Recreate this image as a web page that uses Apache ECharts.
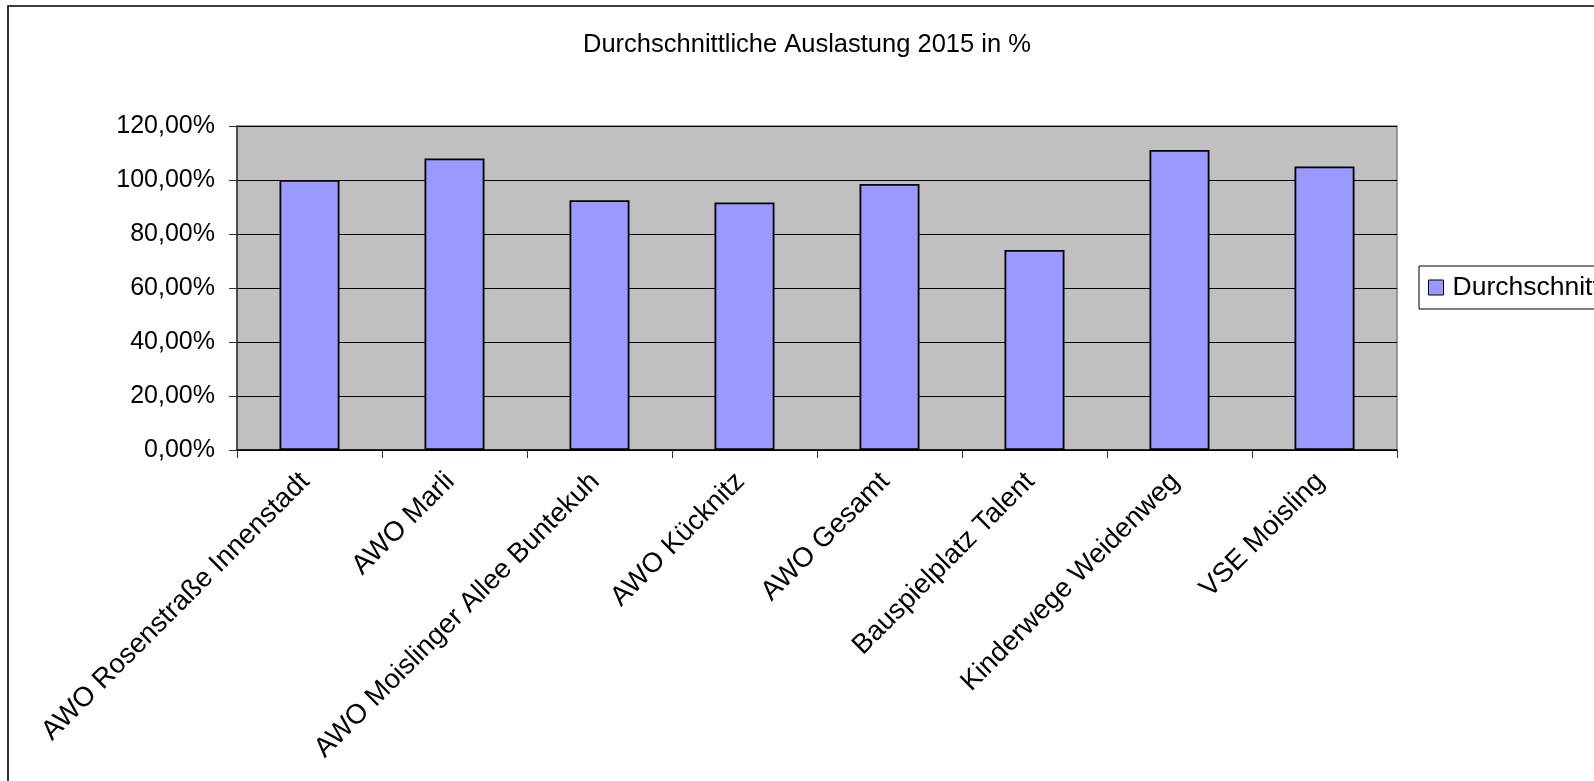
<!DOCTYPE html>
<html>
<head>
<meta charset="utf-8">
<script src="https://cdn.jsdelivr.net/npm/echarts@6/dist/echarts.min.js"></script>
<style>
html,body{margin:0;padding:0;background:#fff;}
#chart{width:1594px;height:781px;}
</style>
</head>
<body>
<div id="chart"></div>
<script>
const titleText = 'Durchschnittliche Auslastung 2015 in %';
const seriesName = 'Durchschnittliche Auslastung';
const categories = ['AWO Rosenstraße Innenstadt','AWO Marli','AWO Moislinger Allee Buntekuh','AWO Kücknitz','AWO Gesamt','Bauspielplatz Talent','Kinderwege Weidenweg','VSE Moisling'];
const values = [100.0, 108.0, 92.5, 91.7, 98.5, 74.1, 111.1, 105.0];
const yMin = 0, yMax = 120, yStep = 20;

const font = 'Liberation Sans, Arial, sans-serif';
const chart = echarts.init(document.getElementById('chart'));
chart.setOption({
  animation: false,
  backgroundColor: '#fff',
  title: {
    text: titleText,
    left: 583, top: 32, padding: 0,
    textStyle: {fontFamily: font, fontSize: 25.5, fontWeight: 'normal', color: '#000'}
  },
  graphic: [{
    type: 'rect', silent: true, z: 100,
    shape: {x: 8, y: 6, width: 1700, height: 900},
    style: {fill: 'none', stroke: '#000', lineWidth: 1.6}
  }],
  legend: {
    left: 1419, top: 266,
    padding: [8, 200, 8, 9],
    borderColor: '#000', borderWidth: 1,
    itemWidth: 15, itemHeight: 15,
    icon: 'rect',
    itemStyle: {borderColor: '#000', borderWidth: 1},
    textStyle: {fontFamily: font, fontSize: 26.5, color: '#000', padding: [0,0,0,4]},
    data: [seriesName]
  },
  grid: {
    left: 237, right: 197, top: 126, bottom: 331,
    show: true, backgroundColor: '#c0c0c0', borderColor: '#808080', borderWidth: 1.5,
    containLabel: false
  },
  xAxis: {
    type: 'category', data: categories,
    axisLine: {lineStyle: {color: '#000', width: 1.5}},
    axisTick: {show: true, length: 8, lineStyle: {color: '#333'}},
    axisLabel: {rotate: 45, margin: 23, padding: [0, 6, 0, 0], fontFamily: font, fontSize: 27.5, color: '#000', interval: 0}
  },
  yAxis: {
    type: 'value', min: yMin, max: yMax, interval: yStep,
    axisLine: {show: true, lineStyle: {color: '#333', width: 1.5}},
    axisTick: {show: true, length: 8, lineStyle: {color: '#333'}},
    splitLine: {lineStyle: {color: '#000', width: 1.2}},
    axisLabel: {
      margin: 22, fontFamily: font, fontSize: 25, color: '#000',
      formatter: v => v.toFixed(2).replace('.', ',') + '%'
    }
  },
  series: [{
    name: seriesName, type: 'bar', data: values, barWidth: 60,
    itemStyle: {color: '#9999ff', borderColor: '#000', borderWidth: 1.8}
  }]
});
</script>
</body>
</html>
